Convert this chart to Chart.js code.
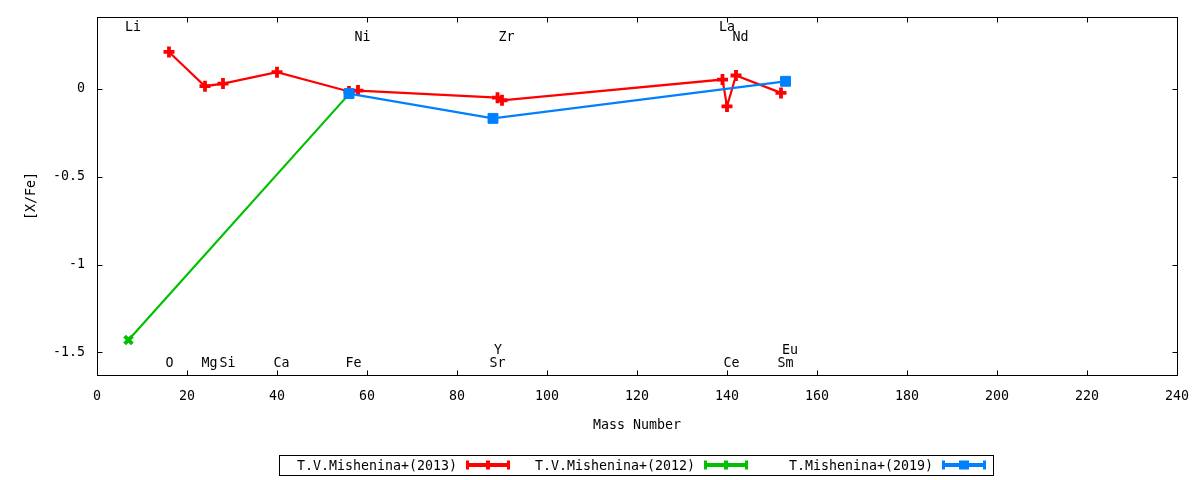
<!DOCTYPE html>
<html>
<head>
<meta charset="utf-8">
<script src="https://cdn.jsdelivr.net/npm/chart.js@4.4.1/dist/chart.umd.min.js"></script>
<style>
  html, body { margin: 0; padding: 0; background: #fff; }
  #wrap { width: 1200px; height: 480px; }
</style>
</head>
<body>
<div id="wrap"><canvas id="chart" width="1200" height="480"></canvas></div>
<script>
// [X/Fe] vs mass number
const mass2013 = [16, 24, 28, 40, 56, 58, 89, 90, 139, 140, 142, 152];
const xfe2013  = [0.21, 0.015, 0.03, 0.095, -0.015, -0.01, -0.05, -0.065, 0.053, -0.10, 0.076, -0.023];

const mass2012 = [7, 56];
const xfe2012  = [-1.43, -0.03];

const mass2019 = [56, 88, 153];
const xfe2019  = [-0.027, -0.168, 0.043];

const seriesNames = ["T.V.Mishenina+(2013)", "T.V.Mishenina+(2012)", "T.Mishenina+(2019)"];
const seriesColors = ["#ff0000", "#00c000", "#0080ff"];

// element labels (mass number, label height in [X/Fe])
const elemNames = ["Li", "O", "Mg", "Si", "Ca", "Fe", "Ni", "Sr", "Y", "Zr", "La", "Ce", "Nd", "Sm", "Eu"];
const elemMass  = [7, 16, 24, 28, 40, 56, 58, 88, 89, 90, 139, 140, 142, 152, 153];
const elemY     = [0.352, -1.56, -1.56, -1.56, -1.56, -1.56, 0.295, -1.56, -1.483, 0.295, 0.352, -1.56, 0.295, -1.56, -1.483];

const xTicks = [0, 20, 40, 60, 80, 100, 120, 140, 160, 180, 200, 220, 240];
const yTicks = [-1.5, -1, -0.5, 0];

const FONT = "13.3px 'DejaVu Sans Mono'";

function toPoints(xs, ys) {
    return xs.map((x, i) => ({ x: x, y: ys[i] }));
}

// keep the plot box where gnuplot put it: no label overflow padding
function fixBox(size) {
    return (s) => {
        if (s.isHorizontal()) s.height = size; else s.width = size;
        s.paddingLeft = s.paddingRight = s.paddingTop = s.paddingBottom = 0;
    };
}

// frame, inward ticks, element labels, axis titles, key box
const gnuplotLook = {
    id: "gnuplotLook",
    afterDatasetsDraw(chart) {
        const { ctx } = chart;
        const xs = chart.scales.x, ys = chart.scales.y;
        ctx.save();
        ctx.fillStyle = "#000";
        ctx.font = FONT;
        ctx.textAlign = "left";
        ctx.textBaseline = "middle";
        elemNames.forEach((name, i) => {
            ctx.fillText(name, xs.getPixelForValue(elemMass[i]) - 3.5, ys.getPixelForValue(elemY[i]) + 1);
        });
        ctx.restore();
    },
    afterDraw(chart) {
        const { ctx, chartArea: a } = chart;
        const xs = chart.scales.x, ys = chart.scales.y;
        const L = Math.round(a.left) + 0.5, R = Math.round(a.right) + 0.5;
        const T = Math.round(a.top) + 0.5, B = Math.round(a.bottom) + 0.5;
        const tl = 5;

        ctx.save();
        ctx.strokeStyle = "#000";
        ctx.lineWidth = 1;
        ctx.beginPath();
        xTicks.forEach(v => {
            const p = Math.round(xs.getPixelForValue(v)) + 0.5;
            if (v === xTicks[0] || v === xTicks[xTicks.length - 1]) return;
            ctx.moveTo(p, B); ctx.lineTo(p, B - tl);
            ctx.moveTo(p, T); ctx.lineTo(p, T + tl);
        });
        yTicks.forEach(v => {
            const p = Math.round(ys.getPixelForValue(v)) + 0.5;
            ctx.moveTo(L, p); ctx.lineTo(L + tl, p);
            ctx.moveTo(R, p); ctx.lineTo(R - tl, p);
        });
        ctx.stroke();
        ctx.strokeRect(L, T, R - L, B - T);

        // axis titles
        ctx.fillStyle = "#000";
        ctx.font = FONT;
        ctx.textAlign = "center";
        ctx.textBaseline = "middle";
        ctx.fillText("Mass Number", (a.left + a.right) / 2, 426);
        ctx.save();
        ctx.translate(32, (a.top + a.bottom) / 2);
        ctx.rotate(-Math.PI / 2);
        ctx.fillText("[X/Fe]", 0, 0);
        ctx.restore();

        // key
        ctx.strokeRect(279.5, 455.5, 714, 20);
        const ky = 465;
        seriesNames.forEach((name, i) => {
            const x0 = 466 + 238 * i, x1 = 510 + 238 * i, xm = (x0 + x1) / 2;
            ctx.fillStyle = "#000";
            ctx.textAlign = "right";
            ctx.fillText(name, x0 - 9, ky + 1.5);
            const c = seriesColors[i];
            ctx.strokeStyle = c;
            ctx.fillStyle = c;
            ctx.lineWidth = 4;
            ctx.beginPath();
            ctx.moveTo(x0, ky); ctx.lineTo(x1, ky);
            ctx.stroke();
            ctx.lineWidth = 3;
            ctx.beginPath();
            ctx.moveTo(x0 + 1.5, ky - 4.5); ctx.lineTo(x0 + 1.5, ky + 4.5);
            ctx.moveTo(x1 - 1.5, ky - 4.5); ctx.lineTo(x1 - 1.5, ky + 4.5);
            ctx.stroke();
            if (i === 2) {
                ctx.fillRect(xm - 5, ky - 4.5, 10, 9);
            } else {
                ctx.fillRect(xm - 2, ky - 4.5, 4, 9);
            }
        });
        ctx.restore();
    }
};

const ctx = document.getElementById("chart").getContext("2d");
new Chart(ctx, {
    type: "scatter",
    data: {
        datasets: [
            {
                label: seriesNames[0],
                data: toPoints(mass2013, xfe2013),
                showLine: true,
                borderColor: seriesColors[0],
                backgroundColor: seriesColors[0],
                borderWidth: 2.2,
                pointStyle: "cross",
                pointRadius: 5.5,
                pointBorderWidth: 3.8,
                order: 3,
            },
            {
                label: seriesNames[1],
                data: toPoints(mass2012, xfe2012),
                showLine: true,
                borderColor: seriesColors[1],
                backgroundColor: seriesColors[1],
                borderWidth: 2.2,
                pointStyle: "crossRot",
                pointRadius: 5.5,
                pointBorderWidth: 3.8,
                order: 2,
            },
            {
                label: seriesNames[2],
                data: toPoints(mass2019, xfe2019),
                showLine: true,
                borderColor: seriesColors[2],
                backgroundColor: seriesColors[2],
                borderWidth: 2.2,
                pointStyle: "rect",
                pointRadius: 7,
                pointBorderWidth: 1,
                order: 1,
            },
        ],
    },
    options: {
        responsive: false,
        animation: false,
        devicePixelRatio: 1,
        layout: { padding: { left: 0, top: 17, right: 23, bottom: 0 } },
        plugins: {
            legend: { display: false },
            tooltip: { enabled: false },
        },
        scales: {
            x: {
                type: "linear",
                min: 0,
                max: 240,
                afterBuildTicks: (s) => { s.ticks = xTicks.map(v => ({ value: v })); },
                afterFit: fixBox(105),
                grid: { display: false, drawTicks: false },
                border: { display: false },
                ticks: {
                    color: "#000",
                    font: { family: "'DejaVu Sans Mono'", size: 13.3 },
                    padding: 14,
                    maxRotation: 0,
                    autoSkip: false,
                    callback: (v) => String(v),
                },
            },
            y: {
                type: "linear",
                min: -1.629,
                max: 0.409,
                afterBuildTicks: (s) => { s.ticks = yTicks.map(v => ({ value: v })); },
                afterFit: fixBox(97),
                grid: { display: false, drawTicks: false },
                border: { display: false },
                ticks: {
                    color: "#000",
                    font: { family: "'DejaVu Sans Mono'", size: 13.3 },
                    padding: 12,
                    autoSkip: false,
                    callback: (v) => String(v),
                },
            },
        },
    },
    plugins: [gnuplotLook],
});
</script>
</body>
</html>
